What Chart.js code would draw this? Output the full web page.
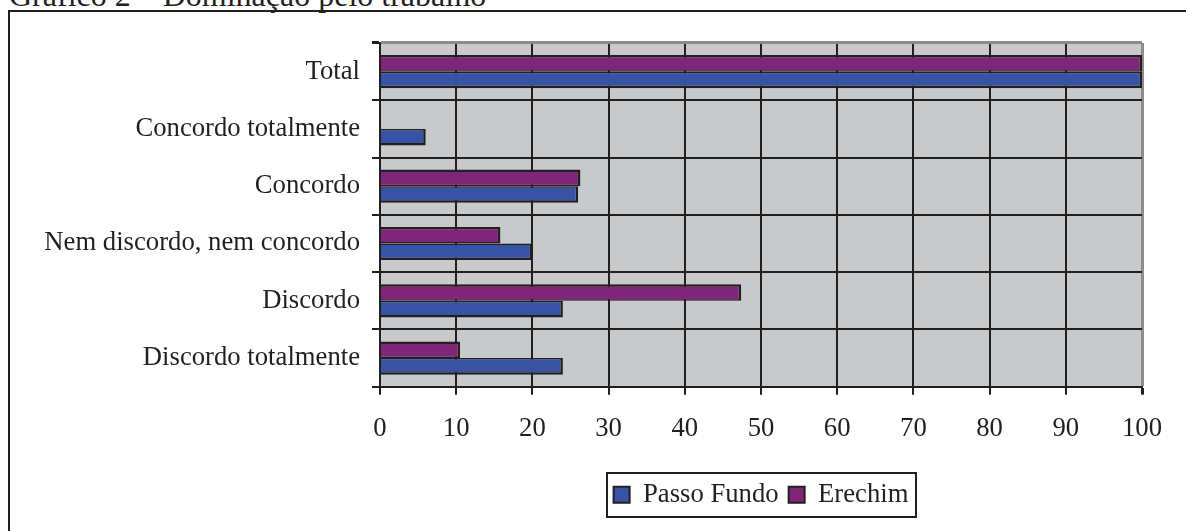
<!DOCTYPE html>
<html>
<head>
<meta charset="utf-8">
<script src="https://cdn.jsdelivr.net/npm/chart.js@4.4.1/dist/chart.umd.min.js"></script>
<style>
  html, body { margin: 0; padding: 0; background: #ffffff; }
  #wrap { position: relative; width: 1186px; height: 531px; overflow: hidden; }
  #title { position: absolute; left: 9px; top: -21px; font-family: 'Liberation Serif', 'Times New Roman', serif; font-size: 32px; line-height: 32px; color: #231F20; white-space: nowrap; }
  #frame { position: absolute; left: 8px; top: 10px; width: 1300px; height: 600px; border-left: 2px solid #231F20; border-top: 2px solid #231F20; }
  #c { position: absolute; left: 0; top: 0; }
</style>
</head>
<body>
<div id="wrap">
  <div id="title">Gráfico 2 – Dominação pelo trabalho</div>
  <div id="frame"></div>
  <canvas id="c" width="1186" height="531"></canvas>
</div>
<script>
const categories = ['Total', 'Concordo totalmente', 'Concordo', 'Nem discordo, nem concordo', 'Discordo', 'Discordo totalmente'];
const passoFundo = [100, 6, 26, 20, 24, 24];
const erechim = [100, 0, 26.3, 15.8, 47.4, 10.5];
const seriesNames = ['Passo Fundo', 'Erechim'];
const xTicksMin = 0, xTicksMax = 100, xTickStep = 10;

const FONT = "'Liberation Serif', 'Times New Roman', serif";
const INK = '#231F20';
const BLUE = '#3953A4';
const PURPLE = '#7E2678';
const PLOT_BG = '#C8C9CB';
const FRAME_GRAY = '#8C8C8C';

const plotBg = {
  id: 'plotBg',
  beforeDraw(chart) {
    const a = chart.chartArea, ctx = chart.ctx;
    ctx.save();
    ctx.fillStyle = PLOT_BG;
    ctx.fillRect(a.left, a.top, a.right - a.left, a.bottom - a.top);
    ctx.restore();
  }
};

const legendPlace = {
  id: 'legendPlace',
  afterLayout(chart) {
    const lg = chart.legend, a = chart.chartArea;
    if (!lg) return;
    lg.left = a.left; lg.right = a.right; lg.width = a.right - a.left;
  },
  afterDraw(chart) {
    const lg = chart.legend;
    if (!lg || !lg.legendHitBoxes || !lg.legendHitBoxes.length) return;
    const hb = lg.legendHitBoxes;
    const first = hb[0], last = hb[hb.length - 1];
    const cy = first.top + first.height / 2;
    const ctx = chart.ctx;
    ctx.save();
    ctx.strokeStyle = INK;
    ctx.lineWidth = 2;
    const l = Math.round(first.left - 7), r = Math.round(last.left + last.width + 8);
    ctx.strokeRect(l, Math.round(cy - 22), r - l, 44);
    ctx.restore();
  }
};

new Chart(document.getElementById('c'), {
  type: 'bar',
  data: {
    labels: categories,
    datasets: [
      {
        label: seriesNames[1], data: erechim, backgroundColor: PURPLE, borderColor: INK,
        borderWidth: { top: 2.5, bottom: 1.5, right: 2.5, left: 0 }, borderSkipped: 'start',
        categoryPercentage: 0.58, barPercentage: 1.0
      },
      {
        label: seriesNames[0], data: passoFundo, backgroundColor: BLUE, borderColor: INK,
        borderWidth: { top: 1.5, bottom: 2.5, right: 2.5, left: 0 }, borderSkipped: 'start',
        categoryPercentage: 0.58, barPercentage: 1.0
      }
    ]
  },
  options: {
    indexAxis: 'y',
    responsive: false,
    animation: false,
    devicePixelRatio: 1,
    layout: { padding: { top: 43, right: 44, left: 0, bottom: 13 } },
    scales: {
      x: {
        min: xTicksMin, max: xTicksMax,
        ticks: { stepSize: xTickStep, color: INK, font: { family: FONT, size: 26.7 }, padding: 18 },
        grid: {
          color: (ctx) => (ctx.tick && ctx.tick.value === xTicksMax) ? FRAME_GRAY : INK,
          lineWidth: (ctx) => (ctx.tick && ctx.tick.value === xTicksMax) ? 3 : 2,
          tickColor: INK, tickLength: 8, drawTicks: true
        },
        border: { color: INK, width: 2 },
        afterFit(scale) { scale.height = 84.6; }
      },
      y: {
        ticks: { color: INK, font: { family: FONT, size: 26.7 }, padding: 12 },
        grid: {
          offset: true,
          color: (ctx) => ctx.index === 0 ? FRAME_GRAY : INK,
          lineWidth: (ctx) => ctx.index === 0 ? 3 : 2,
          tickColor: INK, tickLength: 8
        },
        border: { color: INK, width: 2 },
        afterFit(scale) { scale.width = 380; }
      }
    },
    plugins: {
      title: { display: false },
      tooltip: { enabled: false },
      legend: {
        position: 'bottom',
        reverse: true,
        labels: {
          color: INK,
          font: { family: FONT, size: 26.7 },
          boxWidth: 16, boxHeight: 16, padding: 10,
          generateLabels(chart) {
            const items = Chart.defaults.plugins.legend.labels.generateLabels(chart);
            items.forEach(it => { it.lineWidth = 2; it.strokeStyle = INK; });
            return items;
          }
        }
      }
    }
  },
  plugins: [plotBg, legendPlace]
});
</script>
</body>
</html>
